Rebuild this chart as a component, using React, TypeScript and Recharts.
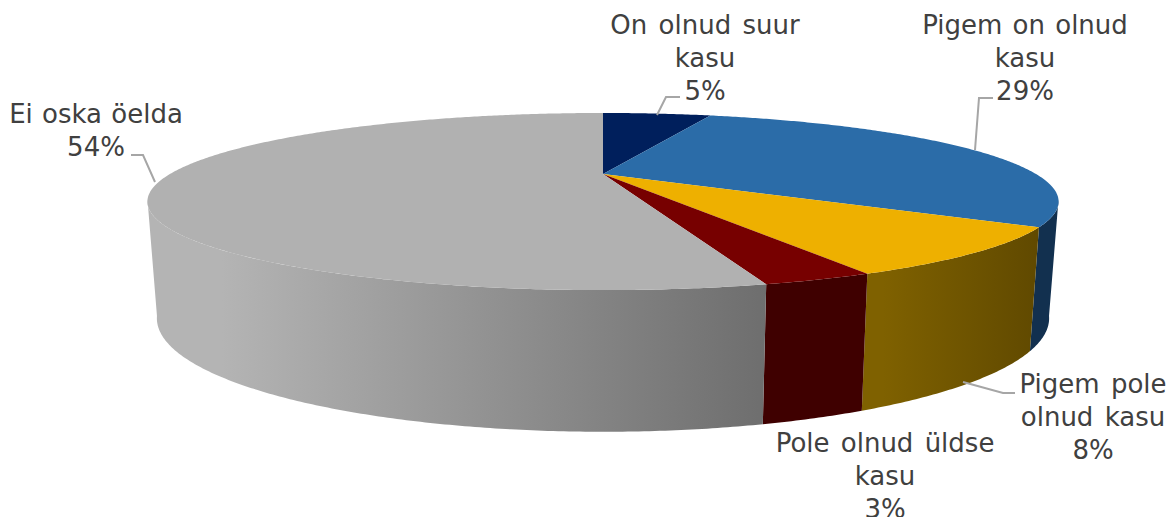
import React from 'react';
import { PieChart, Pie } from 'recharts';

const categories = ['On olnud suur kasu', 'Pigem on olnud kasu', 'Pigem pole olnud kasu', 'Pole olnud üldse kasu', 'Ei oska öelda'];
const values = [5.2, 29.1, 8.45, 3.0, 54.25];
const topColors = ['#001f5c', '#2b6ca8', '#eeb000', '#770000', '#b1b1b1'];
const wallFrom = ['#001030', '#12304f', '#7f6100', '#3f0000', '#b4b4b4'];
const wallTo = ['#001030', '#12304f', '#604900', '#3f0000', '#6e6e6e'];

const labelLines = [
  ['On olnud suur', 'kasu'],
  ['Pigem on olnud', 'kasu'],
  ['Pigem pole', 'olnud kasu'],
  ['Pole olnud üldse', 'kasu'],
  ['Ei oska öelda'],
];

const labelLayout = [
  { x: 705, y: 34, wordSpacing: 3, leader: '657,115 666,97 680,97' },
  { x: 1025, y: 34, wordSpacing: 2, leader: '975,150 979,98 993,98' },
  { x: 1093, y: 393, wordSpacing: 3, leader: '963,382 1003,393 1015,393' },
  { x: 885, y: 452, wordSpacing: 3, leader: '' },
  { x: 96, y: 123, wordSpacing: 1, leader: '155,182 143,155 131,155' },
];

const chartData = categories.map((name, i) => ({ name, value: values[i] }));

const CX = 603;
const CY = 174;
const RADIUS = 433;
const PERSP = 0.311;
const TOP_K = 80;
const BOTTOM_R = 424;
const BOTTOM_CY = 283;
const BOTTOM_K = 102.5;
const NEAR_START = -17;
const NEAR_END = -163;

const rad = (d: number) => (d * Math.PI) / 180;

function project(theta: number, bottom: boolean) {
  const X = Math.cos(rad(theta));
  const Y = -Math.sin(rad(theta));
  const w = 1 - PERSP * Y;
  if (bottom) return [CX + (BOTTOM_R * X) / w, BOTTOM_CY + (BOTTOM_K * Y) / w];
  return [CX + (RADIUS * X) / w, CY + (TOP_K * Y) / w];
}

function arcPoints(from: number, to: number, bottom: boolean) {
  const n = Math.max(2, Math.ceil(Math.abs(from - to) * 2));
  const pts: number[][] = [];
  for (let i = 0; i <= n; i++) pts.push(project(from + ((to - from) * i) / n, bottom));
  return pts;
}

const toPath = (pts: number[][]) =>
  'M' + pts.map((p) => `${p[0].toFixed(2)},${p[1].toFixed(2)}`).join('L') + 'Z';

function Slice3D(props: any) {
  const { startAngle, endAngle, index } = props;
  const i = index ?? categories.indexOf(props.name ?? props.payload?.name);
  const hi = Math.min(startAngle, NEAR_START);
  const lo = Math.max(endAngle, NEAR_END);
  const hasWall = hi > lo;
  let wall: React.ReactNode = null;
  if (hasWall) {
    const top = arcPoints(hi, lo, false);
    const bottom = arcPoints(lo, hi, true);
    const all = [...top, ...bottom];
    const xs = all.map((p) => p[0]);
    const id = `wall-${i}`;
    wall = (
      <>
        <defs>
          <linearGradient id={id} gradientUnits="userSpaceOnUse" x1={Math.min(...xs)} x2={Math.max(...xs)} y1={0} y2={0}>
            <stop offset="0" stopColor={wallFrom[i]} />
            <stop offset="0.12" stopColor={wallFrom[i]} />
            <stop offset="1" stopColor={wallTo[i]} />
          </linearGradient>
        </defs>
        <path d={toPath(all)} fill={`url(#${id})`} />
      </>
    );
  }
  const topFace = [[CX, CY], ...arcPoints(startAngle, endAngle, false)];
  return (
    <g>
      {wall}
      <path d={toPath(topFace)} fill={topColors[i]} />
    </g>
  );
}

function SliceLabel(props: any) {
  const i = props.index;
  const layout = labelLayout[i];
  const lines = [...labelLines[i], `${Math.round(values[i])}%`];
  return (
    <g>
      {layout.leader && <polyline points={layout.leader} fill="none" stroke="#a6a6a6" strokeWidth={2} />}
      {lines.map((line, k) => (
        <text
          key={k}
          x={layout.x}
          y={layout.y + k * 33}
          textAnchor="middle"
          fontFamily="'DejaVu Sans', Verdana, sans-serif"
          fontSize={26}
          fill="#404040"
          style={{ wordSpacing: layout.wordSpacing }}
        >
          {line}
        </text>
      ))}
    </g>
  );
}

export default function App() {
  return (
    <div style={{ position: 'absolute', left: 0, top: 0, width: 1168, height: 517, overflow: 'hidden', background: '#fff' }}>
      <PieChart width={1168} height={517} margin={{ top: 0, right: 0, bottom: 0, left: 0 }}>
        <Pie
          data={chartData}
          dataKey="value"
          nameKey="name"
          cx={CX}
          cy={CY}
          outerRadius={RADIUS}
          startAngle={90}
          endAngle={-270}
          stroke="none"
          isAnimationActive={false}
          shape={(p: any) => <Slice3D {...p} />}
          label={(p: any) => <SliceLabel {...p} />}
          labelLine={false}
        />
      </PieChart>
    </div>
  );
}
